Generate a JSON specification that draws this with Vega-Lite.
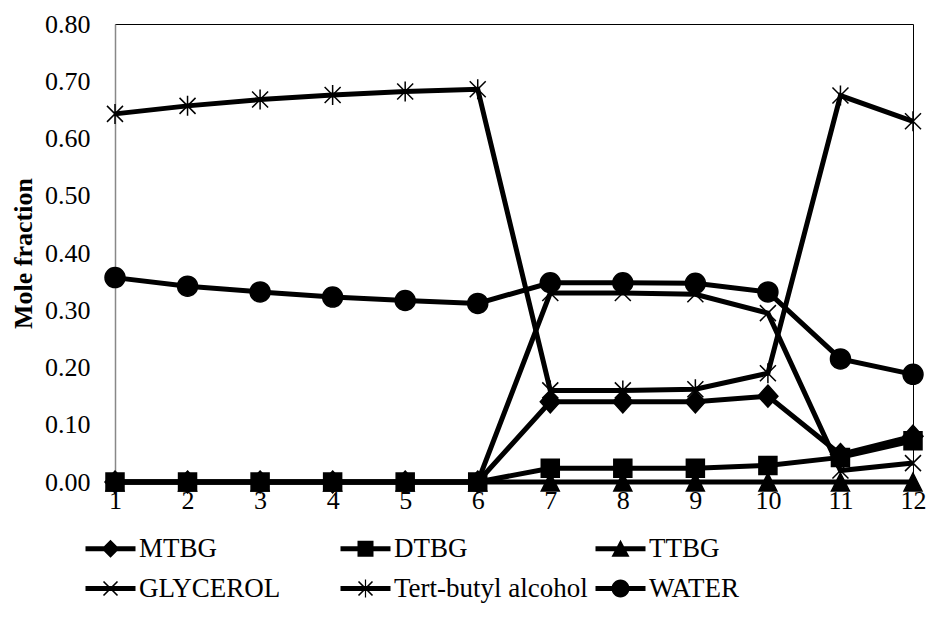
{
  "$schema": "https://vega.github.io/schema/vega-lite/v6.json",
  "width": 798,
  "height": 458,
  "autosize": "none",
  "padding": {"left": 115, "top": 24, "right": 15, "bottom": 146},
  "background": "white",
  "config": {
    "font": "Liberation Serif, Times New Roman, serif",
    "view": {"stroke": "black", "strokeWidth": 1},
    "axis": {"grid": false, "ticks": false, "labelFont": "Liberation Serif, Times New Roman, serif", "labelFontSize": 26, "labelColor": "black", "titleFont": "Liberation Serif, Times New Roman, serif", "titleColor": "black"},
    "legend": {"labelFont": "Liberation Serif, Times New Roman, serif"}
  },
  "data": {
    "values": [
      {"x": 1, "series": "MTBG", "value": 0}, {"x": 2, "series": "MTBG", "value": 0}, {"x": 3, "series": "MTBG", "value": 0}, {"x": 4, "series": "MTBG", "value": 0}, {"x": 5, "series": "MTBG", "value": 0}, {"x": 6, "series": "MTBG", "value": 0},
      {"x": 7, "series": "MTBG", "value": 0.140}, {"x": 8, "series": "MTBG", "value": 0.140}, {"x": 9, "series": "MTBG", "value": 0.140}, {"x": 10, "series": "MTBG", "value": 0.150}, {"x": 11, "series": "MTBG", "value": 0.048}, {"x": 12, "series": "MTBG", "value": 0.080},
      {"x": 1, "series": "DTBG", "value": 0}, {"x": 2, "series": "DTBG", "value": 0}, {"x": 3, "series": "DTBG", "value": 0}, {"x": 4, "series": "DTBG", "value": 0}, {"x": 5, "series": "DTBG", "value": 0}, {"x": 6, "series": "DTBG", "value": 0},
      {"x": 7, "series": "DTBG", "value": 0.024}, {"x": 8, "series": "DTBG", "value": 0.024}, {"x": 9, "series": "DTBG", "value": 0.024}, {"x": 10, "series": "DTBG", "value": 0.029}, {"x": 11, "series": "DTBG", "value": 0.043}, {"x": 12, "series": "DTBG", "value": 0.072},
      {"x": 1, "series": "TTBG", "value": 0}, {"x": 2, "series": "TTBG", "value": 0}, {"x": 3, "series": "TTBG", "value": 0}, {"x": 4, "series": "TTBG", "value": 0}, {"x": 5, "series": "TTBG", "value": 0}, {"x": 6, "series": "TTBG", "value": 0},
      {"x": 7, "series": "TTBG", "value": 0}, {"x": 8, "series": "TTBG", "value": 0}, {"x": 9, "series": "TTBG", "value": 0}, {"x": 10, "series": "TTBG", "value": 0}, {"x": 11, "series": "TTBG", "value": 0}, {"x": 12, "series": "TTBG", "value": 0},
      {"x": 1, "series": "GLYCEROL", "value": 0}, {"x": 2, "series": "GLYCEROL", "value": 0}, {"x": 3, "series": "GLYCEROL", "value": 0}, {"x": 4, "series": "GLYCEROL", "value": 0}, {"x": 5, "series": "GLYCEROL", "value": 0}, {"x": 6, "series": "GLYCEROL", "value": 0},
      {"x": 7, "series": "GLYCEROL", "value": 0.330}, {"x": 8, "series": "GLYCEROL", "value": 0.330}, {"x": 9, "series": "GLYCEROL", "value": 0.328}, {"x": 10, "series": "GLYCEROL", "value": 0.295}, {"x": 11, "series": "GLYCEROL", "value": 0.020}, {"x": 12, "series": "GLYCEROL", "value": 0.033},
      {"x": 1, "series": "Tert-butyl alcohol", "value": 0.643}, {"x": 2, "series": "Tert-butyl alcohol", "value": 0.657}, {"x": 3, "series": "Tert-butyl alcohol", "value": 0.668}, {"x": 4, "series": "Tert-butyl alcohol", "value": 0.676}, {"x": 5, "series": "Tert-butyl alcohol", "value": 0.682}, {"x": 6, "series": "Tert-butyl alcohol", "value": 0.686},
      {"x": 7, "series": "Tert-butyl alcohol", "value": 0.160}, {"x": 8, "series": "Tert-butyl alcohol", "value": 0.160}, {"x": 9, "series": "Tert-butyl alcohol", "value": 0.162}, {"x": 10, "series": "Tert-butyl alcohol", "value": 0.190}, {"x": 11, "series": "Tert-butyl alcohol", "value": 0.675}, {"x": 12, "series": "Tert-butyl alcohol", "value": 0.630},
      {"x": 1, "series": "WATER", "value": 0.357}, {"x": 2, "series": "WATER", "value": 0.342}, {"x": 3, "series": "WATER", "value": 0.332}, {"x": 4, "series": "WATER", "value": 0.323}, {"x": 5, "series": "WATER", "value": 0.317}, {"x": 6, "series": "WATER", "value": 0.312},
      {"x": 7, "series": "WATER", "value": 0.348}, {"x": 8, "series": "WATER", "value": 0.348}, {"x": 9, "series": "WATER", "value": 0.347}, {"x": 10, "series": "WATER", "value": 0.332}, {"x": 11, "series": "WATER", "value": 0.215}, {"x": 12, "series": "WATER", "value": 0.188}
    ]
  },
  "encoding": {
    "x": {
      "field": "x", "type": "quantitative",
      "scale": {"domain": [1, 12], "nice": false, "zero": false},
      "axis": {"title": null, "values": [1, 2, 3, 4, 5, 6, 7, 8, 9, 10, 11, 12], "labelFlush": false, "labelOverlap": false, "labelPadding": 5, "domainColor": "black", "domainWidth": 1}
    },
    "y": {
      "field": "value", "type": "quantitative",
      "scale": {"domain": [0, 0.8], "nice": false},
      "axis": {"title": "Mole fraction", "titleFontSize": 26, "titleFontWeight": "bold", "titlePadding": 8, "values": [0, 0.1, 0.2, 0.3, 0.4, 0.5, 0.6, 0.7, 0.8], "format": ".2f", "labelFlush": false, "labelOverlap": false, "labelPadding": 25, "domainColor": "#888888", "domainWidth": 1.5}
    }
  },
  "layer": [
    {
      "mark": {"type": "line", "color": "black", "strokeWidth": 5},
      "encoding": {"detail": {"field": "series"}}
    },
    {
      "mark": {"type": "point", "filled": true, "color": "black", "stroke": "black", "strokeWidth": 1.5, "size": 400, "opacity": 1},
      "encoding": {
        "shape": {
          "field": "series", "type": "nominal",
          "scale": {
            "domain": ["MTBG", "DTBG", "TTBG", "GLYCEROL", "Tert-butyl alcohol", "WATER"],
            "range": [
              "M0,-1.1L1,0L0,1.1L-1,0Z",
              "M-0.9,-0.9H0.9V0.9H-0.9Z",
              "M0,-0.9L0.9,0.9H-0.9Z",
              "M-0.8,-0.8L0.8,0.8M0.8,-0.8L-0.8,0.8",
              "M-0.8,-0.8L0.8,0.8M0.8,-0.8L-0.8,0.8M0,-1V1",
              "circle"
            ]
          },
          "legend": null
        }
      }
    },
    {
      "mark": {"type": "point", "filled": true, "color": "black", "opacity": 0, "size": 400},
      "encoding": {
        "shape": {
          "field": "series", "type": "nominal",
          "scale": {
            "domain": ["MTBG", "DTBG", "TTBG", "GLYCEROL", "Tert-butyl alcohol", "WATER"],
            "range": [
              "M-1,-0.25H4V0.25H-1Z M1.5,-0.9L2.4,0L1.5,0.9L0.6,0Z",
              "M-1,-0.25H4V0.25H-1Z M0.7,-0.8H2.3V0.8H0.7Z",
              "M-1,-0.25H4V0.25H-1Z M1.5,-0.9L2.4,0.8H0.6Z",
              "M-1,-0.25H4V0.25H-1Z M0.857,-0.757L2.257,0.643L2.143,0.757L0.743,-0.643Z M2.257,-0.643L0.857,0.757L0.743,0.643L2.143,-0.757Z",
              "M-1,-0.25H4V0.25H-1Z M0.857,-0.757L2.257,0.643L2.143,0.757L0.743,-0.643Z M2.257,-0.643L0.857,0.757L0.743,0.643L2.143,-0.757Z M1.44,-0.9H1.56V0.9H1.44Z",
              "M-1,-0.25H4V0.25H-1Z M0.6,0A0.9,0.9 0 1,1 2.4,0A0.9,0.9 0 1,1 0.6,0Z"
            ]
          },
          "legend": {
            "title": null,
            "orient": "none",
            "legendX": -33,
            "legendY": 511,
            "direction": "horizontal",
            "columns": 3,
            "gridAlign": "all",
            "columnPadding": 4,
            "rowPadding": 12,
            "padding": 0,
            "symbolSize": 400,
            "symbolOpacity": 1,
            "symbolFillColor": "black",
            "symbolStrokeColor": "black",
            "symbolStrokeWidth": 0,
            "labelOffset": 30,
            "labelFont": "Liberation Serif, Times New Roman, serif",
            "labelFontSize": 27,
            "labelColor": "black",
            "labelLimit": 400
          }
        }
      }
    }
  ],
  "resolve": {"scale": {"shape": "independent"}}
}
